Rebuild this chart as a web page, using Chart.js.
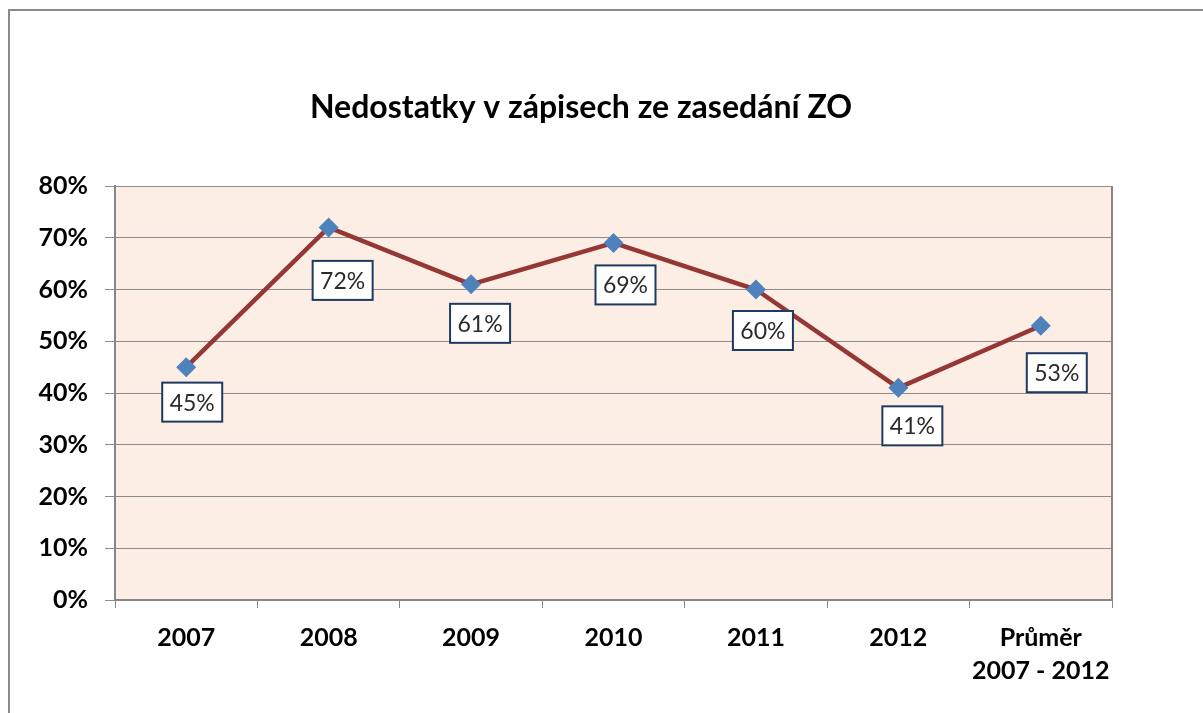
<!DOCTYPE html>
<html>
<head>
<meta charset="utf-8">
<script src="https://cdn.jsdelivr.net/npm/chart.js@4/dist/chart.umd.min.js"></script>
<style>
  html, body { margin: 0; padding: 0; background: #fff; overflow: hidden; }
  #frame {
    position: absolute; left: 8px; top: 9px;
    width: 1300px; height: 800px;
    border: 2px solid #8a8a8a;
  }
  #wrap { position: absolute; left: 0; top: 0; width: 1203px; height: 713px; }
</style>
</head>
<body>
<div id="frame"></div>
<div id="wrap"><canvas id="chart" width="1203" height="713"></canvas></div>
<script>
// Chart data
const chartTitle = 'Nedostatky v zápisech ze zasedání ZO';
const categories = ['2007', '2008', '2009', '2010', '2011', '2012', ['Průměr', '2007 - 2012']];
const shareValues = [45, 72, 61, 69, 60, 41, 53];
const yTicks = [0, 10, 20, 30, 40, 50, 60, 70, 80];

// Label box nudges (px), placed by hand like in the original sheet
const labelNudge = [
  { dx: 6, dy: 35 }, { dx: 14, dy: 53 }, { dx: 9, dy: 39 }, { dx: 12, dy: 42 },
  { dx: 7, dy: 41 }, { dx: 14, dy: 38 }, { dx: 16, dy: 47 }
];

const gridColor = '#8c8c8c';
const axisColor = '#868686';

// Plot area background + right border + title
const plotDecor = {
  id: 'plotDecor',
  beforeDraw: (chart) => {
    const { ctx, chartArea: a } = chart;
    ctx.save();
    ctx.fillStyle = '#fdeee5';
    ctx.fillRect(a.left, a.top, a.right - a.left, a.bottom - a.top);
    ctx.restore();
  },
  afterDraw: (chart) => {
    const { ctx, chartArea: a } = chart;
    ctx.save();
    ctx.strokeStyle = axisColor;
    ctx.lineWidth = 2;
    ctx.beginPath();
    ctx.moveTo(a.right, a.top);
    ctx.lineTo(a.right, a.bottom);
    ctx.stroke();

    ctx.fillStyle = '#000';
    ctx.font = 'bold 32px Lato';
    ctx.textAlign = 'center';
    ctx.textBaseline = 'middle';
    ctx.fillText(chartTitle, 581, 108);
    ctx.restore();
  }
};

// Boxed value labels under each point
const boxLabels = {
  id: 'boxLabels',
  afterDatasetsDraw: (chart) => {
    const { ctx } = chart;
    const meta = chart.getDatasetMeta(0);
    ctx.save();
    ctx.font = '23px Lato';
    ctx.textAlign = 'center';
    ctx.textBaseline = 'middle';
    meta.data.forEach((pt, i) => {
      const text = shareValues[i] + '%';
      const cx = pt.x + labelNudge[i].dx;
      const cy = pt.y + labelNudge[i].dy;
      const w = 60, h = 39;
      ctx.fillStyle = '#fff';
      ctx.fillRect(cx - w / 2, cy - h / 2, w, h);
      ctx.strokeStyle = '#1f3a60';
      ctx.lineWidth = 2;
      ctx.strokeRect(cx - w / 2, cy - h / 2, w, h);
      ctx.fillStyle = '#2b2b2b';
      ctx.fillText(text, cx, cy + 1);
    });
    ctx.restore();
  }
};

new Chart(document.getElementById('chart'), {
  type: 'line',
  data: {
    labels: categories,
    datasets: [{
      data: shareValues,
      borderColor: '#953735',
      borderWidth: 4.5,
      tension: 0,
      pointStyle: 'rectRot',
      pointRadius: 10,
      pointHoverRadius: 10,
      pointBackgroundColor: '#4f81bd',
      pointBorderColor: '#4f81bd',
      pointBorderWidth: 0
    }]
  },
  options: {
    responsive: false,
    animation: false,
    layout: { padding: { top: 186, right: 91, left: 0, bottom: 0 } },
    plugins: {
      legend: { display: false },
      tooltip: { enabled: false },
      title: { display: false }
    },
    scales: {
      x: {
        offset: true,
        afterFit: (scale) => { scale.height = 113; },
        grid: {
          offset: true,
          drawOnChartArea: false,
          drawTicks: true,
          tickLength: 8,
          color: axisColor
        },
        border: { color: axisColor, width: 2 },
        ticks: {
          color: '#000',
          padding: 14,
          maxRotation: 0,
          font: { family: 'Lato', weight: 'bold', size: 25, lineHeight: 1.3 }
        }
      },
      y: {
        min: 0,
        max: 80,
        afterFit: (scale) => { scale.width = 115; },
        afterBuildTicks: (scale) => { scale.ticks = yTicks.map(v => ({ value: v })); },
        grid: {
          color: gridColor,
          lineWidth: 1,
          tickLength: 10
        },
        border: { color: axisColor, width: 2 },
        ticks: {
          color: '#000',
          padding: 17,
          callback: (v) => v + '%',
          font: { family: 'Lato', weight: 'bold', size: 25 }
        }
      }
    }
  },
  plugins: [plotDecor, boxLabels]
});
</script>
</body>
</html>
